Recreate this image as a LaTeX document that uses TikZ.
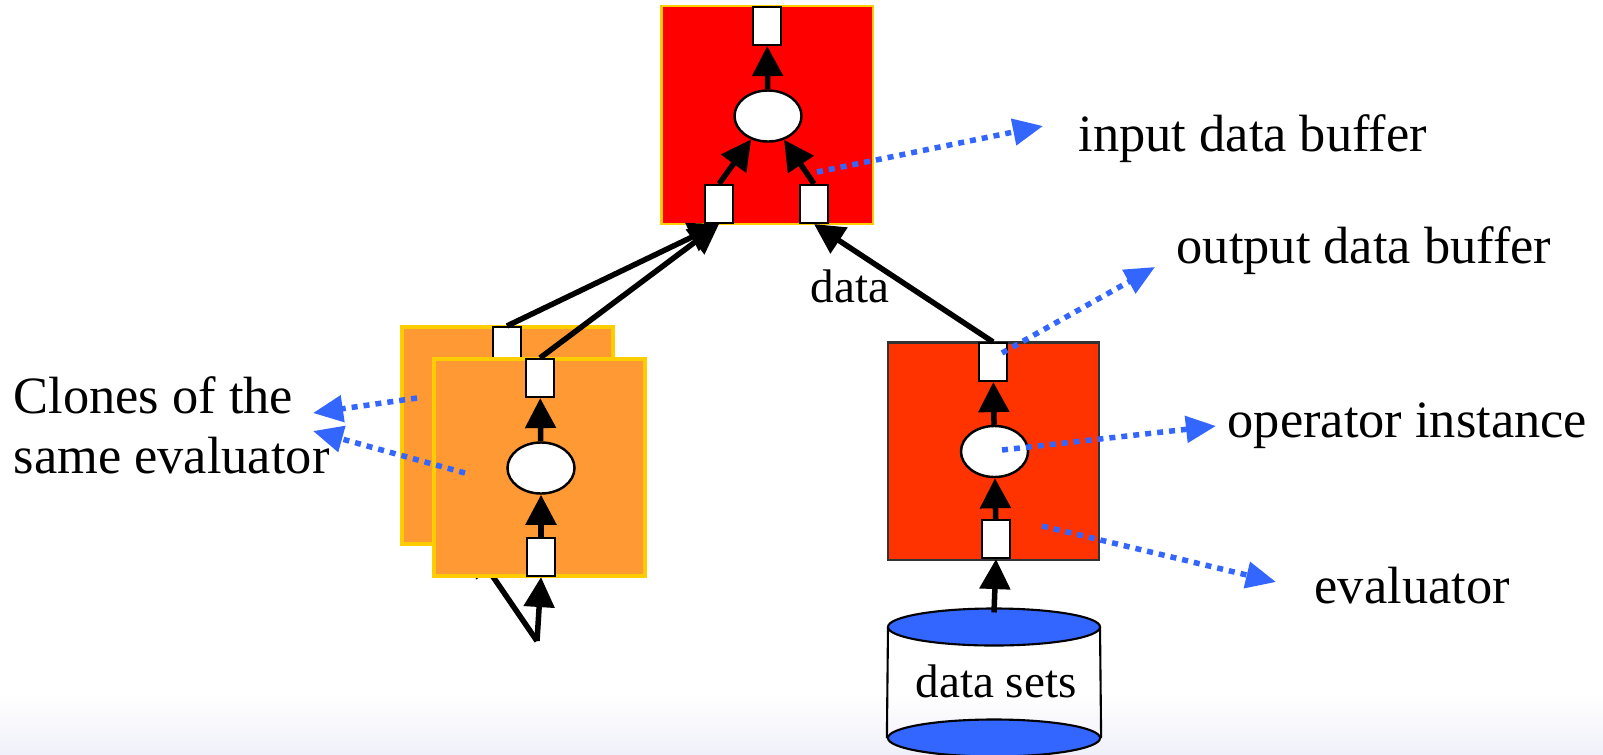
\documentclass[tikz,border=0pt]{standalone}
\usepackage{fontspec}
\setmainfont{Liberation Serif}
\usetikzlibrary{arrows.meta,shapes.geometric}
\definecolor{topred}{HTML}{FF0000}
\definecolor{clonecol}{HTML}{FF9933}
\definecolor{evalred}{HTML}{FF3300}
\definecolor{rimyellow}{HTML}{FFCC00}
\definecolor{ptblue}{HTML}{3366FF}
\definecolor{floorcol}{HTML}{F0F0FA}
\begin{document}
\begin{tikzpicture}[x=0.01cm,y=-0.01cm]
\tikzstyle{every node}+=[inner sep=0pt]
\tikzstyle{evalbox}=[draw, line width=0.6pt, minimum width=2.11cm, minimum height=2.17cm]
\tikzstyle{buffer}=[draw=black, fill=white, line width=0.6pt, minimum width=0.28cm, minimum height=0.38cm]
\tikzstyle{operator}=[ellipse, draw=black, fill=white, line width=0.7pt, minimum width=0.67cm, minimum height=0.51cm]
\tikzstyle{flow}=[line width=0.055cm, -{Triangle[length=0.3cm,width=0.3cm]}]
\tikzstyle{pointer}=[draw=ptblue, line width=0.055cm, dash pattern=on 0.06cm off 0.06cm, -{Triangle[length=0.3cm,width=0.26cm]}]
\tikzstyle{label}=[font=\fontsize{14.9pt}{17pt}\selectfont, anchor=base west]
\tikzstyle{smalllabel}=[font=\fontsize{13.4pt}{16pt}\selectfont]
\useasboundingbox (0,0) rectangle (1603,754);
\shade [top color=white, bottom color=floorcol] (0,695) rectangle (1603,754);
\node [evalbox, draw=rimyellow, fill=topred] (evtop) at (767,115) {};
\node [buffer] (outtop) at (767,26) {};
\node [operator] (optop) at (768,116) {};
\node [buffer] (intopl) at (719,204) {};
\node [buffer] (intopr) at (814,204) {};
\draw [flow] (intopl.north) -- (optop);
\draw [flow] (intopr.north) -- (optop);
\draw [flow] (optop) -- (outtop);
\node [evalbox, draw=rimyellow, fill=clonecol, line width=0.9pt] (evback) at (507.5,435.5) {};
\node [buffer] (outback) at (507,346) {};
\coordinate (inback) at (472,546);
\coordinate (srcclone) at (537,641);
\draw [flow] (srcclone) -- (inback);
\node [evalbox, draw=rimyellow, fill=clonecol, line width=0.9pt] (evfront) at (539.5,467.5) {};
\node [buffer] (outfront) at (540,378) {};
\node [operator] (opfront) at (541,468) {};
\node [buffer] (infront) at (541,557) {};
\draw [flow] (infront) -- (opfront);
\draw [flow] (opfront) -- (outfront);
\draw [flow] (srcclone) -- (infront.south);
\draw [flow] (outback.north) -- (intopl.south);
\draw [flow] (outfront.north) -- (intopl.south);
\node [evalbox, draw=black!80, fill=evalred] (evright) at (993.5,451) {};
\node [buffer] (outright) at (993,362) {};
\node [operator] (opright) at (994.5,451.5) {};
\node [buffer] (inright) at (996,539) {};
\draw [flow] (inright) -- (opright);
\draw [flow] (opright) -- (outright);
\draw [flow] (outright.north) -- (intopr.south);
\node [smalllabel, anchor=base west] (datalbl) at (810,302) {data};
\node [ellipse, draw=black, fill=ptblue, line width=0.6pt, minimum width=2.12cm, minimum height=0.37cm] (dsbot) at (994,738) {};
\draw [line width=0.6pt] (dsbot.west) -- (888,627) (dsbot.east) -- (1100,627);
\node [ellipse, draw=black, fill=ptblue, line width=0.6pt, minimum width=2.12cm, minimum height=0.37cm] (dstop) at (994,627) {};
\node [smalllabel, anchor=base] (dslbl) at (996,697) {data sets};
\draw [flow] ([yshift=-0.05cm]dstop.north) -- (inright.south);
\node [label] (lblin) at (1078,151) {input data buffer};
\node [label] (lblout) at (1176,263) {output data buffer};
\node [label] (lblop) at (1227,437) {operator instance};
\node [label] (lblev) at (1314,603) {evaluator};
\node [label, align=left] (lblclone) at (13,473) {Clones of the\\same evaluator};
\coordinate (pin) at (817,172);
\coordinate (pintip) at (1043,126);
\coordinate (pout) at (1002,353);
\coordinate (pouttip) at (1155,267);
\coordinate (pop) at (1002,450);
\coordinate (poptip) at (1216,426);
\coordinate (pev) at (1042,526);
\coordinate (pevtip) at (1276,582);
\coordinate (pcla) at (417,398);
\coordinate (pclb) at (465,473);
\coordinate (pcltipa) at (313,413);
\coordinate (pcltipb) at (313,431);
\draw [pointer] (pin) -- (pintip);
\draw [pointer] (pout) -- (pouttip);
\draw [pointer] (pop) -- (poptip);
\draw [pointer] (pev) -- (pevtip);
\draw [pointer] (pcla) -- (pcltipa);
\draw [pointer] (pclb) -- (pcltipb);
\end{tikzpicture}
\end{document}
